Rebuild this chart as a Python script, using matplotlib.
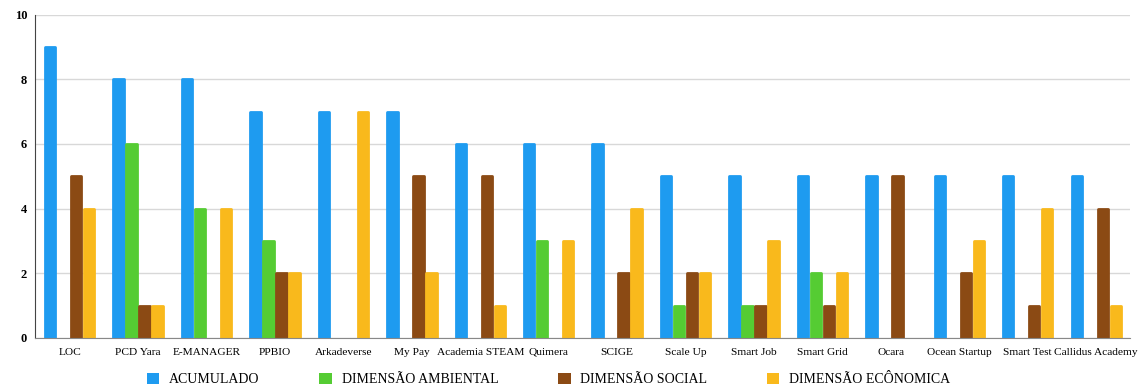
import numpy as np
import matplotlib.pyplot as plt
from matplotlib.patches import Patch

projetos = ['LOC', 'PCD Yara', 'E-MANAGER', 'PPBIO', 'Arkadeverse', 'My Pay',
            'Academia STEAM', 'Quimera', 'SCIGE', 'Scale Up', 'Smart Job',
            'Smart Grid', 'Ocara', 'Ocean Startup', 'Smart Test', 'Callidus Academy']

acumulado = [9, 8, 8, 7, 7, 7, 6, 6, 6, 5, 5, 5, 5, 5, 5, 5]
ambiental = [0, 6, 4, 3, 0, 0, 0, 3, 0, 1, 1, 2, 0, 0, 0, 0]
social    = [5, 1, 0, 2, 0, 5, 5, 0, 2, 2, 1, 1, 5, 2, 1, 4]
economica = [4, 1, 4, 2, 7, 2, 1, 3, 4, 2, 3, 2, 0, 3, 4, 1]

series = [
    ('ACUMULADO', acumulado, '#1e9bf0'),
    ('DIMENSÃO AMBIENTAL', ambiental, '#55cc33'),
    ('DIMENSÃO SOCIAL', social, '#8b4a14'),
    ('DIMENSÃO ECÔNOMICA', economica, '#f9b91c'),
]

plt.rcParams['font.family'] = ['Liberation Serif', 'DejaVu Serif']

fig = plt.figure(figsize=(11.43, 3.87), dpi=100)
ax = fig.add_axes([0.031, 0.127, 0.958, 0.835])

x = np.arange(len(projetos))
w = 0.19
handles = []
for i, (nome, vals, cor) in enumerate(series):
    lw = [2 if v > 0 else 0 for v in vals]
    ax.bar(x + (i - 1.5) * w, vals, width=w * 0.8, color=cor, edgecolor=cor,
           linewidth=lw, joinstyle='round', zorder=3)
    handles.append(Patch(facecolor=cor, label=nome))

ax.set_xlim(-0.5, len(projetos) - 0.5)
ax.set_ylim(0, 10)
ax.set_yticks(range(0, 11, 2))
ax.set_xticks(x)
ax.set_xticklabels(projetos, fontsize=8.2)
for t in ax.get_xticklabels():
    t.set_verticalalignment('baseline')
for t in ax.get_yticklabels():
    t.set_fontweight('bold')
    t.set_fontsize(9)
ax.tick_params(axis='y', length=0, pad=6)
ax.tick_params(axis='x', length=0, pad=12)
ax.grid(axis='y', color='#d8d8d8', linewidth=1, zorder=0)
for s in ['top', 'right']:
    ax.spines[s].set_visible(False)
ax.spines['left'].set_color('#444444')
ax.spines['bottom'].set_color('#888888')
ax.spines['bottom'].set_zorder(4)

fig.legend(handles=handles, loc='lower center', bbox_to_anchor=(0.48, -0.03), ncol=4,
           frameon=False, fontsize=10, handlelength=0.9, handleheight=0.9,
           columnspacing=4.3, handletextpad=0.7)

fig.savefig('out.png', dpi=100)
